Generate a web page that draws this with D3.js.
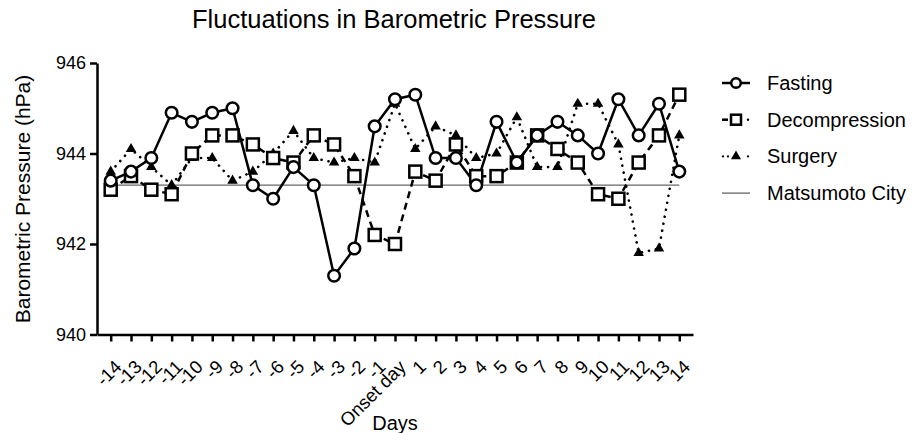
<!DOCTYPE html>
<html>
<head>
<meta charset="utf-8">
<script src="https://cdn.jsdelivr.net/npm/d3@7"></script>
<style>
    body { margin: 0; background: #fff; }
    svg { display: block; font-family: 'Liberation Sans', Arial, sans-serif; }
</style>
</head>
<body>
<svg width="922" height="433"></svg>
<script>
// Categories (days around onset)
const days = ['-14', '-13', '-12', '-11', '-10', '-9', '-8', '-7', '-6', '-5', '-4', '-3', '-2', '-1',
    'Onset day', '1', '2', '3', '4', '5', '6', '7', '8', '9', '10', '11', '12', '13', '14'];

// Series values (hPa)
const fasting = [943.4, 943.6, 943.9, 944.9, 944.7, 944.9, 945.0, 943.3, 943.0, 943.7, 943.3, 941.3, 941.9, 944.6,
    945.2, 945.3, 943.9, 943.9, 943.3, 944.7, 943.8, 944.4, 944.7, 944.4, 944.0, 945.2, 944.4, 945.1, 943.6];
const decompression = [943.2, 943.5, 943.2, 943.1, 944.0, 944.4, 944.4, 944.2, 943.9, 943.8, 944.4, 944.2, 943.5, 942.2,
    942.0, 943.6, 943.4, 944.2, 943.5, 943.5, 943.8, 944.4, 944.1, 943.8, 943.1, 943.0, 943.8, 944.4, 945.3];
const surgery = [943.6, 944.1, 943.7, 943.3, 943.9, 943.9, 943.4, 943.6, 944.0, 944.5, 943.9, 943.8, 943.9, 943.8,
    945.1, 944.1, 944.6, 944.4, 943.9, 944.0, 944.8, 943.7, 943.7, 945.1, 945.1, 944.2, 941.8, 941.9, 944.4];
const matsumoto = days.map(() => 943.3);

// Y axis ticks
const yTicks = [940, 942, 944, 946];

const svg = d3.select('svg');

// Scales
const x = d3.scalePoint().domain(days).range([97, 693]).padding(0.675);
const y = d3.scaleLinear().domain([940, 946]).range([334.5, 63]);

// Title
svg.append('text')
    .attr('x', 394)
    .attr('y', 28)
    .attr('text-anchor', 'middle')
    .style('font-size', '25.5px')
    .text('Fluctuations in Barometric Pressure');

// Y axis
const yAxis = svg.append('g')
    .attr('transform', 'translate(97,0)')
    .call(d3.axisLeft(y).tickValues(yTicks).tickFormat(d3.format('d')).tickSize(7).tickSizeOuter(0).tickPadding(4));
yAxis.select('.domain').attr('stroke-width', 2.5);
yAxis.selectAll('.tick line').attr('stroke-width', 2.5);
yAxis.selectAll('.tick text').style('font-size', '18px').attr('fill', '#000');

svg.append('text')
    .attr('transform', 'translate(30,199) rotate(-90)')
    .attr('text-anchor', 'middle')
    .style('font-size', '21px')
    .text('Barometric Pressure (hPa)');

// X axis
const xAxis = svg.append('g')
    .attr('transform', 'translate(0,334.5)')
    .call(d3.axisBottom(x).tickSize(7).tickSizeOuter(0));
xAxis.select('.domain').attr('stroke-width', 2.5);
xAxis.selectAll('.tick line').attr('stroke-width', 2.5);
xAxis.selectAll('.tick text')
    .style('font-size', '18.5px')
    .attr('fill', '#000')
    .attr('text-anchor', 'end')
    .attr('dy', '0.35em')
    .attr('transform', 'translate(7,29) rotate(-45)')
    .attr('x', 0)
    .attr('y', 0);

svg.append('text')
    .attr('x', 395)
    .attr('y', 430)
    .attr('text-anchor', 'middle')
    .style('font-size', '20px')
    .text('Days');

// Lines
const line = (vals) => d3.line()
    .x((d, i) => x(days[i]))
    .y((d) => y(d))(vals);

svg.append('path')
    .attr('d', line(matsumoto))
    .attr('fill', 'none')
    .attr('stroke', '#666')
    .attr('stroke-width', 1.3);

svg.append('path')
    .attr('d', line(surgery))
    .attr('fill', 'none')
    .attr('stroke', '#000')
    .attr('stroke-width', 2.6)
    .attr('stroke-linecap', 'round')
    .attr('stroke-dasharray', '0.1 7');

svg.append('path')
    .attr('d', line(decompression))
    .attr('fill', 'none')
    .attr('stroke', '#000')
    .attr('stroke-width', 2.5)
    .attr('stroke-dasharray', '7 5');

svg.append('path')
    .attr('d', line(fasting))
    .attr('fill', 'none')
    .attr('stroke', '#000')
    .attr('stroke-width', 2.5);

// Markers
const tri = d3.symbol().type(d3.symbolTriangle).size(48);
svg.append('g').selectAll('path')
    .data(surgery)
    .join('path')
    .attr('d', tri)
    .attr('transform', (d, i) => `translate(${x(days[i])},${y(d)})`)
    .attr('fill', '#000');

svg.append('g').selectAll('rect')
    .data(decompression)
    .join('rect')
    .attr('x', (d, i) => x(days[i]) - 6)
    .attr('y', (d) => y(d) - 6)
    .attr('width', 12)
    .attr('height', 12)
    .attr('fill', '#fff')
    .attr('stroke', '#000')
    .attr('stroke-width', 2.5);

svg.append('g').selectAll('circle')
    .data(fasting)
    .join('circle')
    .attr('cx', (d, i) => x(days[i]))
    .attr('cy', (d) => y(d))
    .attr('r', 5.8)
    .attr('fill', '#fff')
    .attr('stroke', '#000')
    .attr('stroke-width', 2.5);

// Legend
const legendItems = ['Fasting', 'Decompression', 'Surgery', 'Matsumoto City'];
const legend = svg.append('g');
legendItems.forEach((name, i) => {
    const cy = 83 + i * 36.7;
    const g = legend.append('g');
    if (name === 'Fasting') {
        g.append('line').attr('x1', 722).attr('x2', 750).attr('y1', cy).attr('y2', cy)
            .attr('stroke', '#000').attr('stroke-width', 2.5);
        g.append('circle').attr('cx', 736).attr('cy', cy).attr('r', 4.8)
            .attr('fill', '#fff').attr('stroke', '#000').attr('stroke-width', 2.5);
    } else if (name === 'Decompression') {
        g.append('line').attr('x1', 722).attr('x2', 728).attr('y1', cy).attr('y2', cy)
            .attr('stroke', '#000').attr('stroke-width', 2.5);
        g.append('circle').attr('cx', 748).attr('cy', cy).attr('r', 1.2).attr('fill', '#000');
        g.append('rect').attr('x', 731).attr('y', cy - 5).attr('width', 10).attr('height', 10)
            .attr('fill', '#fff').attr('stroke', '#000').attr('stroke-width', 2.5);
    } else if (name === 'Surgery') {
        [723, 728, 748].forEach((cx) => {
            g.append('circle').attr('cx', cx).attr('cy', cy).attr('r', 1.1).attr('fill', '#000');
        });
        g.append('path').attr('d', d3.symbol().type(d3.symbolTriangle).size(44))
            .attr('transform', `translate(736,${cy})`).attr('fill', '#000');
    } else {
        g.append('line').attr('x1', 722).attr('x2', 750).attr('y1', cy).attr('y2', cy)
            .attr('stroke', '#666').attr('stroke-width', 1.3);
    }
    g.append('text')
        .attr('x', 767)
        .attr('y', cy)
        .attr('dy', '0.35em')
        .style('font-size', '20px')
        .text(name);
});
</script>
</body>
</html>
